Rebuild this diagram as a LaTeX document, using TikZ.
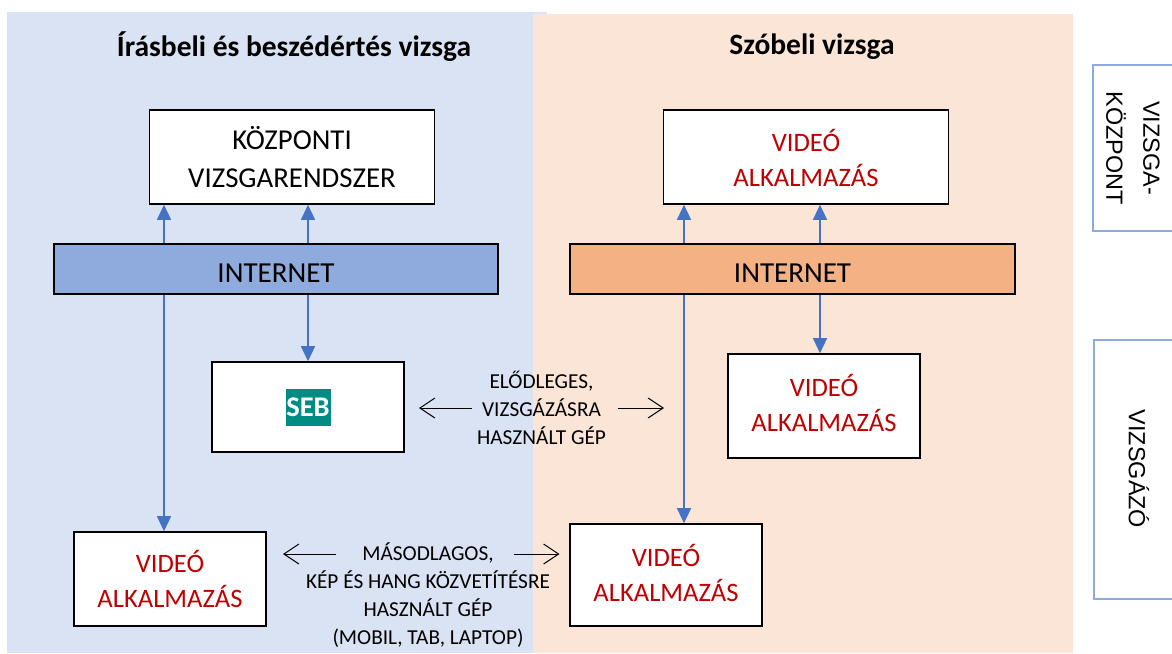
\documentclass[tikz,border=0pt]{standalone}
\usepackage{fontspec}
\setmainfont{Carlito}
\newfontfamily\sidefont{Liberation Sans}
\usepackage{tikz}
\usetikzlibrary{arrows.meta,positioning,calc}
\definecolor{panelblue}{HTML}{DAE3F3}
\definecolor{panelorange}{HTML}{FBE5D6}
\definecolor{netblue}{HTML}{8FAADC}
\definecolor{netorange}{HTML}{F4B183}
\definecolor{linkblue}{HTML}{4472C4}
\definecolor{videored}{HTML}{C00000}
\definecolor{sebteal}{HTML}{008C85}
\tikzstyle{panel}=[inner sep=0pt,outer sep=0pt]
\tikzstyle{headline}=[font=\fontsize{29.5}{34}\selectfont\bfseries,inner sep=0pt]
\tikzstyle{whitebox}=[draw=black,fill=white,line width=1.6pt,align=center,inner sep=0pt,font=\fontsize{28.8}{38}\selectfont]
\tikzstyle{videobox}=[whitebox,text=videored,font=\fontsize{26.6}{35}\selectfont]
\tikzstyle{netbox}=[draw=black,line width=1.6pt,inner sep=0pt,minimum height=50pt,text height=26.5pt,text depth=0pt,font=\fontsize{29}{34}\selectfont]
\tikzstyle{note}=[align=center,inner sep=0pt,font=\fontsize{21.3}{28}\selectfont]
\tikzstyle{sidebox}=[draw=netblue,fill=white,line width=2pt,inner sep=0pt]
\tikzstyle{sidetext}=[rotate=-90,align=center,inner sep=0pt,font=\sidefont\fontsize{23.4}{37}\selectfont]
\tikzstyle{link}=[draw=linkblue,line width=1.2pt,-{Triangle[length=15pt,width=14pt]}]
\tikzstyle{hint}=[black,line width=1pt,-{Straight Barb[length=15pt,width=20pt,line width=1pt]}]
\begin{document}
\begin{tikzpicture}[x=1pt,y=-1pt]
\useasboundingbox (0,0) rectangle (1172,653);
\clip (0,0) rectangle (1172,653);
\node [panel,fill=panelblue,minimum width=540pt,minimum height=641pt] (panA) at (277,332.5) {};
\node [panel,fill=panelorange,minimum width=540pt,minimum height=639pt] (panB) at (803,333.5) {};
\node [headline] (headA) at (294,46.5) {Írásbeli és beszédértés vizsga};
\node [headline] (headB) at (812,46.5) {Szóbeli vizsga};

\node [whitebox,minimum width=285pt,minimum height=94pt] (center) at (292,157) {KÖZPONTI\\VIZSGARENDSZER};
\node [netbox,fill=netblue,minimum width=444pt] (netA) at (276,269) {INTERNET};
\node [whitebox,minimum width=192pt,minimum height=90pt] (seb) at (308,407) {};
\node [fill=sebteal,text=white,inner sep=0pt,minimum width=45pt,minimum height=37pt,font=\fontsize{28.5}{34}\selectfont\bfseries] (logo) at (seb.center) {SEB};
\node [videobox,minimum width=192pt,minimum height=94pt] (videoA) at (170,579) {VIDEÓ\\ALKALMAZÁS};

\node [videobox,text height=60pt,minimum width=285pt,minimum height=94pt] (videoB) at (806,157) {VIDEÓ\\ALKALMAZÁS};
\node [netbox,fill=netorange,minimum width=445pt] (netB) at (792.5,269) {INTERNET};
\node [videobox,text depth=6pt,minimum width=192pt,minimum height=104pt] (videoC) at (824,406) {VIDEÓ\\ALKALMAZÁS};
\node [videobox,text depth=5pt,minimum width=192pt,minimum height=102pt] (videoD) at (666,575) {VIDEÓ\\ALKALMAZÁS};

\node [note] (first) at (541.5,408) {ELŐDLEGES,\\VIZSGÁZÁSRA\\HASZNÁLT GÉP};
\node [note] (second) at (428,595) {MÁSODLAGOS,\\KÉP ÉS HANG KÖZVETÍTÉSRE\\HASZNÁLT GÉP\\(MOBIL, TAB, LAPTOP)};

\node [sidebox,anchor=north west,minimum width=100pt,minimum height=166pt] (sideA) at (1092,64) {};
\node [sidebox,anchor=north west,minimum width=100pt,minimum height=259pt] (sideB) at (1093,339) {};
\node [sidetext] (sideAtext) at (1133,148) {VIZSGA-\\KÖZPONT};
\node [sidetext] (sideBtext) at (1139,469) {VIZSGÁZÓ};

\coordinate (leftA) at (164,0);
\coordinate (leftB) at (684,0);
\coordinate (rightB) at (820,0);
\coordinate (firstL) at (472,408);
\coordinate (firstLend) at (419,408);
\coordinate (firstR) at (618,408);
\coordinate (firstRend) at (664,408);
\coordinate (secondL) at (336,554);
\coordinate (secondLend) at (283,554);
\coordinate (secondR) at (514,554);
\coordinate (secondRend) at (559.5,554);

\draw [link] (leftA |- netA.north) -- (leftA |- center.south);
\draw [link] (seb.center |- netA.north) -- (seb.center |- center.south);
\draw [link] (seb.center |- netA.south) -- (seb.north);
\draw [link] (leftA |- netA.south) -- (leftA |- videoA.north);
\draw [link] (leftB |- netB.north) -- (leftB |- videoB.south);
\draw [link] (rightB |- netB.north) -- (rightB |- videoB.south);
\draw [link] (rightB |- netB.south) -- (rightB |- videoC.north);
\draw [link] (leftB |- netB.south) -- (leftB |- videoD.north);

\draw [hint] (firstL) -- (firstLend);
\draw [hint] (firstR) -- (firstRend);
\draw [hint] (secondL) -- (secondLend);
\draw [hint] (secondR) -- (secondRend);
\end{tikzpicture}
\end{document}
